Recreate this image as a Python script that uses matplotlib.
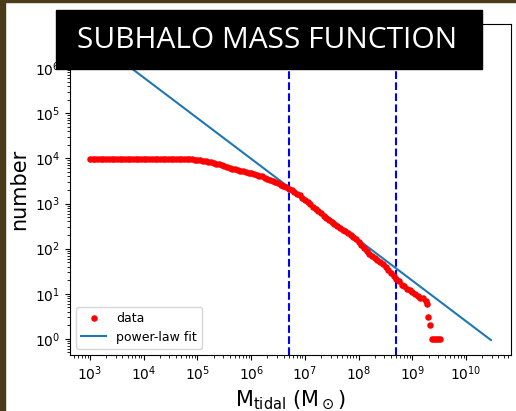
import numpy as np
import matplotlib
matplotlib.use("Agg")
from matplotlib import pyplot as plt
from matplotlib.patches import Rectangle

# subhalo counts per tidal mass (log10 of M_sun)
log_mass = [3.00, 3.05, 3.10, 3.15, 3.20, 3.25, 3.30, 3.35, 3.40, 3.45,
            3.50, 3.55, 3.60, 3.65, 3.70, 3.75, 3.80, 3.85, 3.90, 3.95,
            4.00, 4.05, 4.10, 4.15, 4.20, 4.25, 4.30, 4.35, 4.40, 4.45,
            4.50, 4.55, 4.60, 4.65, 4.70, 4.75, 4.80, 4.85, 4.90, 4.95,
            5.00, 5.05, 5.10, 5.15, 5.20, 5.25, 5.30, 5.35, 5.40, 5.45,
            5.50, 5.55, 5.60, 5.65, 5.70, 5.75, 5.80, 5.85, 5.90, 5.95,
            6.00, 6.05, 6.10, 6.15, 6.20, 6.25, 6.30, 6.35, 6.40, 6.45,
            6.50, 6.55, 6.60, 6.65, 6.70, 6.75, 6.80, 6.85, 6.90, 6.95,
            7.00, 7.05, 7.10, 7.15, 7.20, 7.25, 7.30, 7.35, 7.40, 7.45,
            7.50, 7.55, 7.60, 7.65, 7.70, 7.75, 7.80, 7.85, 7.90, 7.95,
            8.00, 8.05, 8.10, 8.15, 8.20, 8.25, 8.30, 8.35, 8.40, 8.45,
            8.50, 8.55, 8.60, 8.65, 8.70, 8.75, 8.80, 8.85, 8.90, 8.95,
            9.00, 9.05, 9.10, 9.15, 9.20, 9.25, 9.28, 9.29, 9.33,
            9.36, 9.40, 9.44, 9.48, 9.51]
counts = [9800, 9800, 9800, 9800, 9800, 9800, 9800, 9800, 9800, 9800,
          9800, 9800, 9800, 9800, 9800, 9800, 9800, 9800, 9800, 9800,
          9800, 9800, 9800, 9800, 9800, 9800, 9800, 9800, 9800, 9800,
          9800, 9790, 9780, 9760, 9730, 9680, 9620, 9560, 9490, 9420,
          9330, 9120, 8910, 8710, 8510, 8220, 7940, 7670, 7410, 7080,
          6760, 6460, 6170, 5960, 5750, 5560, 5370, 5190, 5010, 4840,
          4680, 4520, 4370, 4170, 3980, 3760, 3550, 3350, 3160, 2990,
          2820, 2630, 2450, 2290, 2140, 1970, 1820, 1660, 1510, 1350,
          1200, 1070, 955, 851, 759, 676, 603, 537, 479, 432,
          389, 351, 316, 288, 263, 240, 219, 200, 182, 162,
          141, 120, 102, 87, 76, 69, 62, 56, 50, 45,
          40, 34, 29, 25, 21, 19, 16, 15, 13, 12,
          11, 10, 9, 8, 8, 7, 6, 3, 2,
          1, 1, 1, 1, 1]

# power-law fit N = norm * (M / 1e3)^slope
fit_norm = 4.9e6
fit_slope = -0.90
fit_range = [1e3, 2.9e10]

# fitting window
m_lo, m_hi = 5e6, 5e8

mass = 10 ** np.array(log_mass)
x_fit = np.logspace(np.log10(fit_range[0]), np.log10(fit_range[1]), 200)
y_fit = fit_norm * (x_fit / 1e3) ** fit_slope

W, H = 516, 411
fig = plt.figure(figsize=(W / 100, H / 100), dpi=100)
ax = fig.add_axes([70 / W, 1 - 355 / H, (511 - 70) / W, (355 - 24) / H])

ax.scatter(mass, counts, s=22, color='red', linewidths=0, label='data', zorder=3)
ax.plot(x_fit, y_fit, color='#1f77b4', lw=1.5, label='power-law fit', zorder=2)
ax.axvline(m_lo, color='blue', ls='--', lw=1.5)
ax.axvline(m_hi, color='blue', ls='--', lw=1.5)

ax.set_xscale('log')
ax.set_yscale('log')
ax.set_ylim(0.44, 9.5e6)
ax.set_xlabel(r'$\mathrm{M_{tidal}\ (M_\odot)}$', fontsize=15)
ax.set_ylabel('number', fontsize=15)
ax.tick_params(labelsize=10)
ax.legend(loc='lower left', fontsize=9)

# frame strips
fig.patches.append(Rectangle((0, 0), 5 / W, 1, transform=fig.transFigure,
                             color='#4a3c1a', zorder=10))
fig.patches.append(Rectangle((0, 1 - 2 / H), 1, 2 / H, transform=fig.transFigure,
                             color='#4a3c1a', zorder=10))

# title banner
fig.patches.append(Rectangle((56 / W, 1 - 69 / H), (482 - 56) / W, (69 - 10) / H,
                             transform=fig.transFigure, color='black', zorder=10))
fig.text(267 / W, 1 - 40 / H, 'SUBHALO MASS FUNCTION', color='white',
         family='Open Sans', fontsize=21.5, ha='center', va='center', zorder=11)

fig.savefig('out.png', dpi=100)
